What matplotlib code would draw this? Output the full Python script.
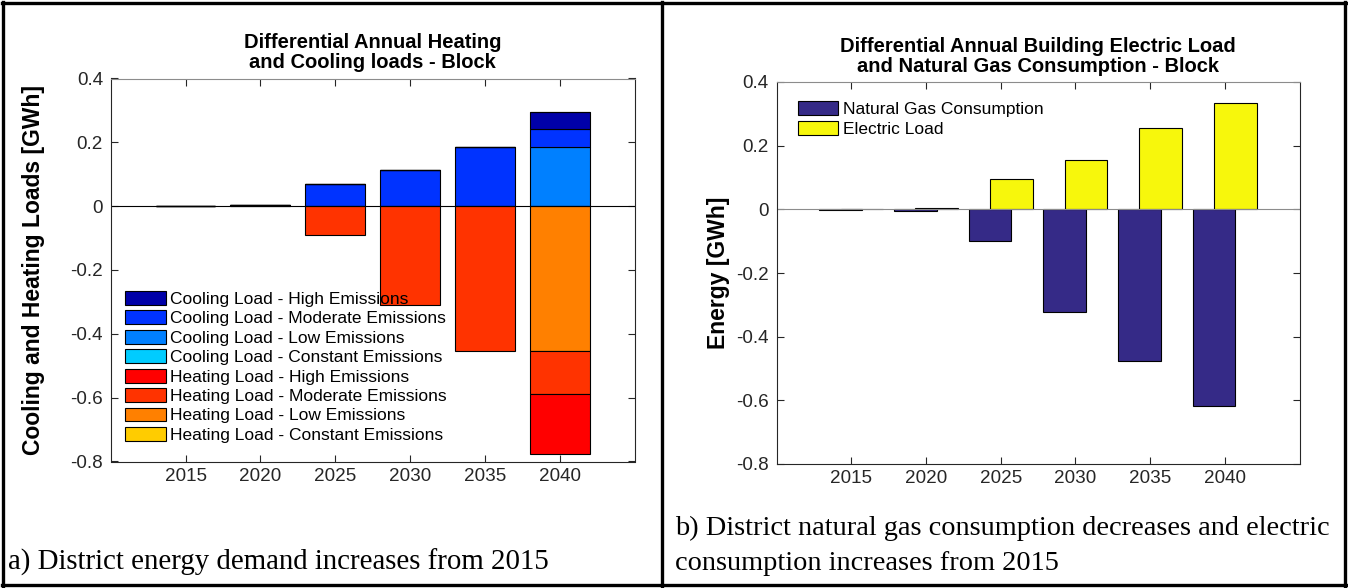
import matplotlib
matplotlib.use("Agg")
import matplotlib.pyplot as plt
from matplotlib.lines import Line2D

plt.rcParams["font.family"] = ["Liberation Sans", "DejaVu Sans"]
plt.rcParams["axes.unicode_minus"] = False

# --- data (GWh) ---
years = [2015, 2020, 2025, 2030, 2035, 2040]

cool_const = [0.001, 0.004, 0.0, 0.0, 0.0, 0.002]
cool_low = [0.0, 0.0, 0.0, 0.0, 0.0, 0.182]
cool_mod = [0.0, 0.0, 0.070, 0.112, 0.184, 0.058]
cool_high = [0.0, 0.0, 0.0, 0.0, 0.0, 0.052]
heat_const = [-0.001, -0.001, 0.0, 0.0, 0.0, 0.0]
heat_low = [0.0, 0.0, 0.0, 0.0, 0.0, -0.455]
heat_mod = [0.0, 0.0, -0.091, -0.311, -0.455, -0.134]
heat_high = [0.0, 0.0, 0.0, 0.0, 0.0, -0.187]

gas = [-0.002, -0.005, -0.098, -0.323, -0.476, -0.618]
electric = [0.001, 0.005, 0.096, 0.156, 0.257, 0.334]

yticks = [-0.8, -0.6, -0.4, -0.2, 0.0, 0.2, 0.4]
ytick_labels = ["-0.8", "-0.6", "-0.4", "-0.2", "0", "0.2", "0.4"]

load_series = [
    ("Cooling Load - High Emissions", cool_high, "#0000a8"),
    ("Cooling Load - Moderate Emissions", cool_mod, "#0033ff"),
    ("Cooling Load - Low Emissions", cool_low, "#0080ff"),
    ("Cooling Load - Constant Emissions", cool_const, "#00ccff"),
    ("Heating Load - High Emissions", heat_high, "#ff0000"),
    ("Heating Load - Moderate Emissions", heat_mod, "#ff3300"),
    ("Heating Load - Low Emissions", heat_low, "#ff8000"),
    ("Heating Load - Constant Emissions", heat_const, "#ffcc00"),
]
# stacking order outward from zero
stack_order = [3, 2, 1, 0, 7, 6, 5, 4]

TXT = "#262626"
W, H = 1348, 588


def style_axes(ax):
    ax.set_xlim(2010, 2045)
    ax.set_ylim(-0.8, 0.4)
    ax.set_xticks(years)
    ax.set_xticklabels([str(y) for y in years])
    ax.set_yticks(yticks)
    ax.set_yticklabels(ytick_labels)
    ax.tick_params(direction="in", length=5, width=0.8, colors=TXT,
                   labelsize=13.6, top=True, right=True)
    ax.tick_params(axis="x", pad=4.5)
    ax.tick_params(axis="y", pad=5.5)
    for side, sp in ax.spines.items():
        sp.set_linewidth(0.8)
        sp.set_color("#8c8c8c" if side == "top" else TXT)


leg_kw = dict(loc="upper left", frameon=False, fontsize=12.5,
              handlelength=2.35, handleheight=0.85, handletextpad=0.25,
              labelspacing=0.2, borderpad=0, borderaxespad=0)
title_kw = dict(fontsize=14.5, fontweight="bold", pad=7.5, linespacing=1.05)

fig = plt.figure(figsize=(W / 100, H / 100), dpi=100)

# ---- panel a ----
ax1 = fig.add_axes([110.6 / W, 1 - 461.5 / H, 524.4 / W, 383 / H])
pos = [0.0] * len(years)
neg = [0.0] * len(years)
handles = {}
for i in stack_order:
    label, vals, color = load_series[i]
    bottoms = [pos[k] if v >= 0 else neg[k] for k, v in enumerate(vals)]
    handles[i] = ax1.bar(years, vals, width=4, bottom=bottoms, color=color,
                         edgecolor="black", linewidth=0.8, label=label)
    for k, v in enumerate(vals):
        if v >= 0:
            pos[k] += v
        else:
            neg[k] += v
ax1.axhline(0, color="black", linewidth=0.8)
style_axes(ax1)
ax1.set_title("Differential Annual Heating\nand Cooling loads - Block",
              **title_kw)
ax1.set_ylabel("Cooling and Heating Loads [GWh]", fontsize=16.5,
               fontweight="bold", color="black")
ax1.yaxis.set_label_coords(-0.125, 0.5)
ax1.legend([handles[i] for i in range(8)], [s[0] for s in load_series],
           bbox_to_anchor=(0.0275, 0.445), **leg_kw)

# ---- panel b ----
ax2 = fig.add_axes([776.5 / W, 1 - 464 / H, 523 / W, 382 / H])
off = 5 / 7
bw = 20 / 7
ax2.bar([y - off for y in years], gas, width=bw, color="#352a87",
        edgecolor="black", linewidth=0.8, label="Natural Gas Consumption")
ax2.bar([y + off for y in years], electric, width=bw, color="#f7f70c",
        edgecolor="black", linewidth=0.8, label="Electric Load")
ax2.axhline(0, color="#8c8c8c", linewidth=0.8)
style_axes(ax2)
ax2.set_title("Differential Annual Building Electric Load\n"
              "and Natural Gas Consumption - Block", **title_kw)
ax2.set_ylabel("Energy [GWh]", fontsize=16.5, fontweight="bold",
               color="black")
ax2.yaxis.set_label_coords(-0.088, 0.5)
ax2.legend(bbox_to_anchor=(0.0403, 0.9495), **leg_kw)

# ---- captions ----
serif = ["Liberation Serif", "DejaVu Serif"]
cap_kw = dict(family=serif, va="center", ha="left")
fig.text(8 / W, 1 - 562 / H, "a) District energy demand increases from 2015",
         fontsize=20.8, **cap_kw)
fig.text(675 / W, 1 - 528 / H,
         "b) District natural gas consumption decreases and electric",
         fontsize=20.4, **cap_kw)
fig.text(675 / W, 1 - 564 / H, "consumption increases from 2015",
         fontsize=20.4, **cap_kw)

# ---- table borders ----
lw = 2.4
for xs, ys in [((3, 3), (2, 586)), ((1345, 1345), (2, 586)),
               ((662, 662), (2, 586)), ((2, 1346), (3, 3)),
               ((2, 1346), (585, 585))]:
    fig.add_artist(Line2D([x / W for x in xs], [1 - y / H for y in ys],
                          color="black", linewidth=lw,
                          transform=fig.transFigure))

fig.savefig("out.png", dpi=100)
